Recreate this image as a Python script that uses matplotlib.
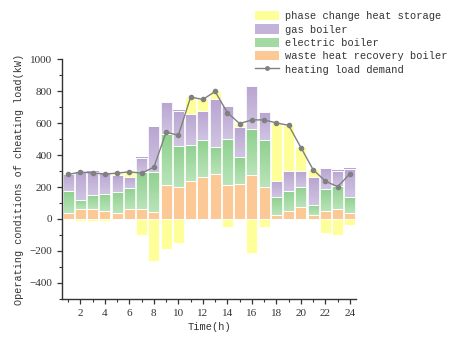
import numpy as np
import matplotlib
matplotlib.use("Agg")
import matplotlib.pyplot as plt
from matplotlib.patches import Patch
from matplotlib.lines import Line2D
from matplotlib.colors import LinearSegmentedColormap

hours = np.arange(1, 25)
# heat output of each unit (kW)
waste_heat = [40, 60, 60, 50, 35, 60, 60, 46, 210, 202, 235, 264, 281, 210, 222, 277, 202, 27, 48, 73, 23, 52, 60, 40]
electric = [137, 61, 88, 108, 135, 137, 231, 251, 324, 255, 229, 233, 170, 293, 167, 286, 295, 108, 129, 129, 66, 137, 146, 95]
gas = [106, 180, 147, 137, 106, 67, 92, 285, 198, 219, 193, 179, 299, 204, 187, 269, 172, 104, 125, 99, 175, 131, 95, 179]
# phase change storage: positive = release, negative = charge
storage = [-3, -10, -10, -10, 11, 31, -98, -260, -190, -152, 106, 72, 50, -48, 21, -214, -48, 361, 285, 150, 48, -85, -102, -35]
load = [279, 293, 289, 281, 287, 295, 287, 324, 543, 524, 763, 748, 798, 665, 597, 620, 620, 601, 586, 447, 308, 237, 202, 283]

legend_labels = ["phase change heat storage", "gas boiler", "electric boiler",
                 "waste heat recovery boiler", "heating load demand"]

c_yellow = "#ffff99"
c_orange = "#fcc896"
green_cmap = LinearSegmentedColormap.from_list("g", ["#b9e4b9", "#8fd08f"])
purple_cmap = LinearSegmentedColormap.from_list("p", ["#d0c4e2", "#b9a5d1"])

mono = "Liberation Mono"
plt.rcParams["font.family"] = "Liberation Serif"

fig = plt.figure(figsize=(4.49, 3.42), dpi=100)
ax = fig.add_axes([0.138, 0.126, 0.655, 0.701])

waste_heat = np.array(waste_heat)
electric = np.array(electric)
gas = np.array(gas)
storage = np.array(storage)
pos = np.clip(storage, 0, None)
neg = np.clip(storage, None, 0)

w = 0.9
grad = np.linspace(0, 1, 64).reshape(-1, 1)


def gradient_bars(x, bottom, height, cmap):
    # draw bars filled with a vertical gradient (dark on top)
    for xi, b, h in zip(x, bottom, height):
        if h <= 0:
            continue
        ax.imshow(grad, cmap=cmap, aspect="auto", origin="lower",
                  extent=(xi - w / 2, xi + w / 2, b, b + h), zorder=1)
    ax.bar(x, height, w, bottom=bottom, facecolor="none",
           edgecolor="white", linewidth=0.6, zorder=2)


ax.bar(hours, waste_heat, w, color=c_orange, edgecolor="white", linewidth=0.6, zorder=2)
gradient_bars(hours, waste_heat, electric, green_cmap)
gradient_bars(hours, waste_heat + electric, gas, purple_cmap)
ax.bar(hours, pos, w, bottom=waste_heat + electric + gas, color=c_yellow,
       edgecolor="white", linewidth=0.6, zorder=2)
ax.bar(hours, neg, w, color=c_yellow, edgecolor="white", linewidth=0.6, zorder=2)

ax.plot(hours, load, color="#808080", linewidth=1.0, marker="o", markersize=3,
        zorder=3)

ax.set_xlim(0.5, 24.5)
ax.set_ylim(-500, 1000)
ax.set_xticks(range(2, 25, 2))
ax.set_xticks(range(1, 25, 2), minor=True)
ax.set_yticks(range(-400, 1001, 200))
ax.set_yticks(range(-500, 1001, 100), minor=True)
for s in ["top", "right"]:
    ax.spines[s].set_visible(False)
for s in ["left", "bottom"]:
    ax.spines[s].set_color("#333333")
    ax.spines[s].set_linewidth(1.0)
ax.tick_params(which="major", length=3.5, width=0.9, color="#333333", labelsize=8,
               labelcolor="#333333", direction="out")
ax.tick_params(which="minor", length=2, width=0.8, color="#333333")

ax.set_xlabel("Time(h)", fontfamily=mono, fontsize=7.5, color="#333333", labelpad=3)
ax.set_ylabel("Operating conditions of cheating load(kW)", fontfamily=mono,
              fontsize=7.3, color="#333333", labelpad=4)

handles = [Patch(facecolor=c_yellow), Patch(facecolor="#c4b3d9"),
           Patch(facecolor="#a3daa3"), Patch(facecolor=c_orange),
           Line2D([], [], color="#808080", marker="o", markersize=2.5, linewidth=1.0)]
fig.legend(handles, legend_labels, loc="upper left", bbox_to_anchor=(0.568, 0.968),
           frameon=False, prop={"family": mono, "size": 7.5}, borderpad=0,
           borderaxespad=0, handlelength=2.3, handleheight=1.0, handletextpad=0.6,
           labelspacing=0.3, labelcolor="#333333")

fig.savefig("out.png", dpi=100)
